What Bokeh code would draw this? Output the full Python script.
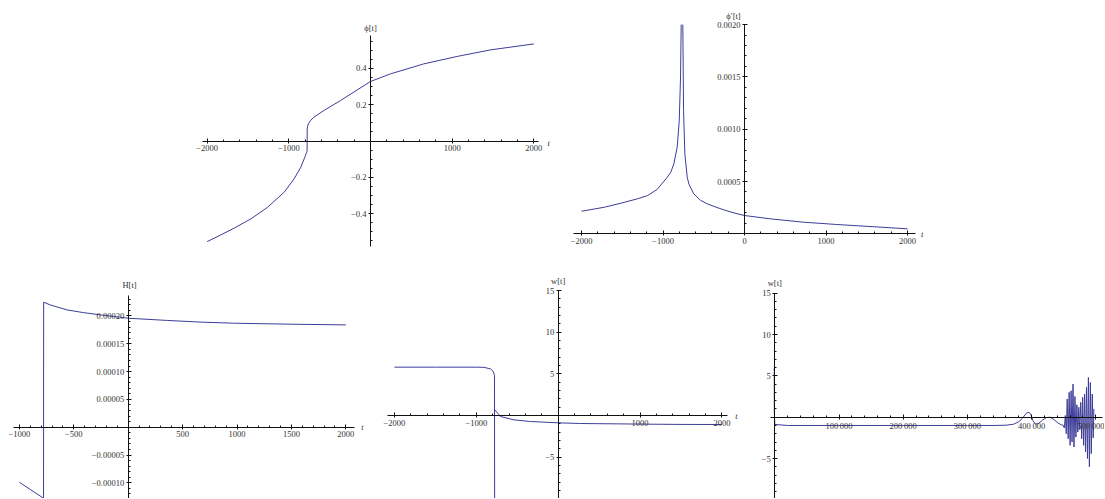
import numpy as np
from bokeh.plotting import figure
from bokeh.layouts import column, row
from bokeh.models import Spacer, FixedTicker, Label, CustomJSTickFormatter
from bokeh.embed import file_html
from bokeh.resources import INLINE

# ---------------- data ----------------
# phi[t]
phi_lo_t = [-2000, -1832, -1670, -1465, -1261, -1057, -935, -853, -804, -790, -780, -776]
phi_lo = [-0.554, -0.517, -0.480, -0.429, -0.365, -0.282, -0.208, -0.144, -0.089, -0.072, -0.062, -0.050]
phi_hi_t = [-776, -775, -770, -760, -730, -694, -571, -367, 0, 245, 653, 1061, 1469, 2000]
phi_hi = [-0.050, 0.067, 0.082, 0.095, 0.115, 0.131, 0.168, 0.223, 0.328, 0.370, 0.425, 0.466, 0.502, 0.535]

# phi'[t]  (clipped at the plot range top 0.002)
dphi_l_t = [-2000, -1720, -1515, -1312, -1189, -1071, -948, -904, -867, -826, -801, -785, -777]
dphi_l = [0.000216, 0.000254, 0.000293, 0.000335, 0.000366, 0.000425, 0.000541, 0.000590,
          0.000669, 0.000828, 0.00108, 0.0015, 0.0020]
dphi_r_t = [-757, -748, -732, -703, -680, -622, -540, -458, -350, -254, -130, 0, 318, 725, 1133, 1540, 2000]
dphi_r = [0.0020, 0.00118, 0.000765, 0.000541, 0.000470, 0.000382, 0.000320, 0.000287, 0.000255,
          0.000229, 0.000200, 0.000175, 0.000143, 0.000111, 0.0000889, 0.0000698, 0.0000478]

# H[t]
H_t = [-1000, -900, -778, -777, -717, -563, -409, -255, 0, 360, 668, 975, 1283, 1578, 2000]
H = [-0.0000989, -0.000112, -0.0001277, 0.0002248, 0.000220, 0.000211, 0.000206, 0.000202,
     0.000196, 0.000192, 0.000189, 0.000187, 0.000186, 0.000185, 0.000184]

# w[t] on [-2000, 2000]
w_l_t = [-2000, -1500, -1000, -909, -827, -794, -778, -776]
w_l = [5.8, 5.8, 5.8, 5.78, 5.6, 5.3, 4.8, -12.0]
w_r_t = [-774, -705, -542, -338, 0, 273, 682, 1090, 1500, 2000]
w_r = [0.68, -0.12, -0.52, -0.72, -0.88, -0.96, -1.0, -1.04, -1.07, -1.08]

# w[t] on the long run
wl_t = [-2000, -790, -776, 0, 20000, 100000, 200000, 300000, 340000, 360000, 372000, 380000,
        386000, 392000, 396000, 399000, 402000, 406000, 411000, 417000, 423000, 429000, 435000,
        441000, 447000, 449000, 451000, 452500, 454000, 455500, 457000, 458500, 460000, 461500,
        463000, 464500, 466000, 467500, 469000, 470500, 472000, 473500, 475000, 476500, 478000,
        479500, 481000, 482500, 484000, 485500, 487000, 488500, 490000, 491500, 493000, 494500,
        496000, 497000]
wl = [5.8, 5.8, 0.7, -0.88, -1.0, -1.0, -1.0, -1.0, -1.0, -0.97, -0.85, -0.55,
      -0.1, 0.5, 0.6, 0.3, -0.4, -0.85, -0.75, -0.35, -0.05, 0.0, -0.3,
      -0.7, -0.95, -0.95, -1.3, 0.2, -2.0, 2.2, -2.6, 3.0, -3.4, 3.2,
      -3.0, 4.0, -3.6, 2.5, -2.4, 1.5, -1.8, 1.2, -1.5, 1.8, -2.6,
      2.4, -3.4, 2.8, -4.2, 3.6, -5.0, 4.8, -6.0, 4.2, -4.4, 2.8,
      -2.5, 1.0]

LINE = "#3d3d99"
FONT = "Liberation Serif"


def fmt(v):
    return v.replace("-", "\u2212")


def make_fig(w, h, xr, yr):
    p = figure(width=w, height=h, x_range=xr, y_range=yr, output_backend="svg",
               toolbar_location=None, min_border=0, title=None)
    p.grid.visible = False
    p.outline_line_color = None
    p.background_fill_color = "white"
    p.border_fill_color = "white"
    return p


def style_axes(p, xb, yb, xt, xl, xm, yt, yl, ym):
    xa = p.xaxis[0]
    ya = p.yaxis[0]
    xa.fixed_location = 0
    ya.fixed_location = 0
    xa.bounds = xb
    ya.bounds = yb
    for ax, t, l, m in ((xa, xt, xl, xm), (ya, yt, yl, ym)):
        ax.ticker = FixedTicker(ticks=t, minor_ticks=m)
        ax.formatter = CustomJSTickFormatter(args=dict(tvals=t, tlabs=l), code="""
            for (let i = 0; i < tvals.length; i++) {
                if (Math.abs(tick - tvals[i]) <= 1e-9 * Math.max(1e-3, Math.abs(tvals[i]))) return tlabs[i];
            }
            return "";
        """)
        ax.axis_line_color = "#111111"
        ax.axis_line_width = 1
        ax.major_tick_line_color = "#111111"
        ax.minor_tick_line_color = "#111111"
        ax.major_tick_in = 3
        ax.major_tick_out = 2
        ax.minor_tick_in = 2
        ax.minor_tick_out = 0
        ax.major_label_text_font = FONT
        ax.major_label_text_font_size = "8.5px"
        ax.major_label_text_color = "#333333"
        ax.major_label_standoff = 2


def add_label(p, x, y, text, italic=False):
    p.add_layout(Label(x=x, y=y, text=text, text_font=FONT, text_font_size="8.5px",
                       text_color="#333333", text_align="center", text_baseline="middle",
                       text_font_style="italic" if italic else "normal"))


# ---------------- plot 1: phi ----------------
p1 = make_fig(380, 250, (-2326, 2326), (-0.647, 0.730))
p1.line(phi_lo_t, phi_lo, line_color=LINE, line_width=1)
p1.line(phi_hi_t, phi_hi, line_color=LINE, line_width=1)
x1 = [-2000, -1000, 1000, 2000]
y1 = [-0.4, -0.2, 0.2, 0.4]
style_axes(p1, (-2060, 2060), (-0.582, 0.584),
           x1, [fmt(str(v)) for v in x1], [v for v in range(-1800, 2000, 200) if v % 1000 != 0],
           y1, [fmt(str(v)) for v in y1],
           [round(v, 2) for v in np.arange(-0.55, 0.56, 0.05) if abs(round(v, 2)) not in (0.0, 0.2, 0.4)])
add_label(p1, 0, 0.625, "\u03d5[t]")
add_label(p1, 2180, -0.012, "t", italic=True)

# ---------------- plot 2: phi' ----------------
p2 = make_fig(380, 250, (-2258, 2405), (-0.000236, 0.002154))
p2.line(dphi_l_t, dphi_l, line_color=LINE, line_width=1)
p2.line(dphi_r_t, dphi_r, line_color=LINE, line_width=1)
x2 = [-2000, -1000, 0, 1000, 2000]
y2 = [0.0005, 0.0010, 0.0015, 0.0020]
style_axes(p2, (-2094, 2098), (0, 0.0020),
           x2, [fmt(str(v)) for v in x2], [v for v in range(-1800, 2000, 200) if v % 1000 != 0],
           y2, ["0.0005", "0.0010", "0.0015", "0.0020"],
           [round(k * 0.0001, 4) for k in range(1, 20) if k % 5 != 0])
add_label(p2, -135, 0.002087, "\u03d5\u2032[t]")
add_label(p2, 2180, 0.0, "t", italic=True)

# ---------------- plot 3: H ----------------
p3 = make_fig(370, 240, (-1100, 2300), (-0.0001282, 0.0003034))
p3.line(H_t, H, line_color=LINE, line_width=1)
x3 = [-1000, -500, 500, 1000, 1500, 2000]
y3 = [-0.0001, -0.00005, 0.00005, 0.0001, 0.00015, 0.0002]
style_axes(p3, (-1057, 2076), (-0.00014, 0.000237),
           x3, [fmt(str(v)) for v in x3], [v for v in range(-900, 2000, 100) if v % 500 != 0],
           y3, ["\u22120.00010", "\u22120.00005", "0.00005", "0.00010", "0.00015", "0.00020"],
           [round(k * 0.00001, 5) for k in range(-13, 24) if k % 5 != 0])
add_label(p3, 12, 0.000255, "H[t]")
add_label(p3, 2153, 0.0, "t", italic=True)

# ---------------- plot 4: w ----------------
p4 = make_fig(370, 240, (-2195, 2325), (-9.96, 18.84))
p4.line(w_l_t, w_l, line_color=LINE, line_width=1)
p4.line(w_r_t, w_r, line_color=LINE, line_width=1)
x4 = [-2000, -1000, 1000, 2000]
y4 = [-10, -5, 5, 10, 15]
style_axes(p4, (-2082, 2072), (-12, 15),
           x4, [fmt(str(v)) for v in x4], [v for v in range(-1800, 2000, 200) if v % 1000 != 0],
           y4, [fmt(str(v)) for v in y4], [v for v in range(-12, 15) if v % 5 != 0])
add_label(p4, 0, 16.2, "w[t]")
add_label(p4, 2178, 0.0, "t", italic=True)

# ---------------- plot 5: w (long run) ----------------
p5 = make_fig(356, 240, (-40966, 513550), (-9.83, 19.19))
p5.line(wl_t, wl, line_color=LINE, line_width=1)
x5 = [100000, 200000, 300000, 400000, 500000]
y5 = [-10, -5, 5, 10, 15]
style_axes(p5, (-6000, 510000), (-12, 15),
           x5, ["100\u2009000", "200\u2009000", "300\u2009000", "400\u2009000", "500\u2009000"],
           [v for v in range(20000, 510000, 20000) if v % 100000 != 0],
           y5, [fmt(str(v)) for v in y5], [v for v in range(-12, 15) if v % 5 != 0])
add_label(p5, 0, 16.2, "w[t]")

layout = column(Spacer(width=10, height=8),
                row(Spacer(width=180, height=250), p1, p2),
                row(Spacer(width=8, height=240), p3, p4, p5))

open("out.html", "w").write(file_html(layout, INLINE))
